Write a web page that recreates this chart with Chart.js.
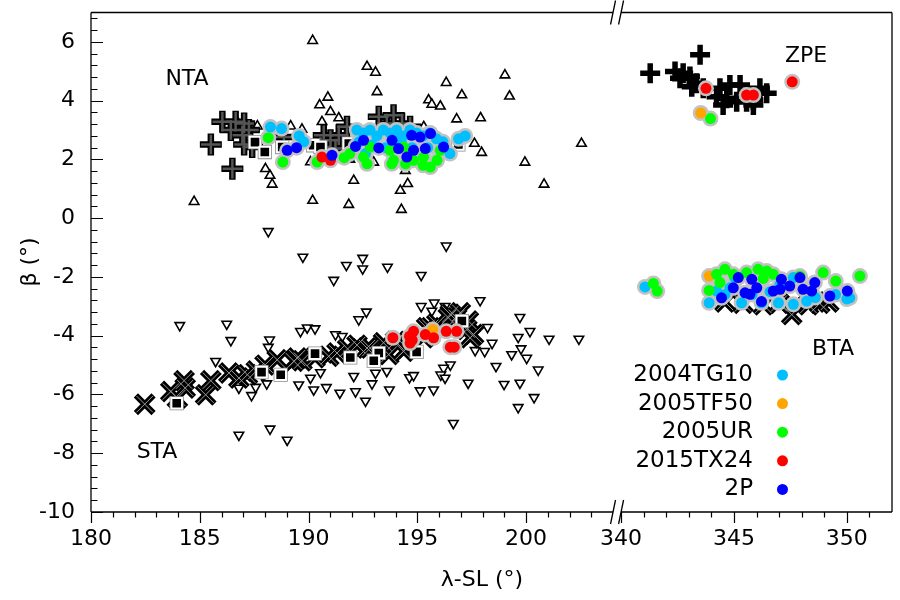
<!DOCTYPE html>
<html>
<head>
<meta charset="utf-8">
<script src="https://cdn.jsdelivr.net/npm/chart.js@4.4.1/dist/chart.umd.min.js"></script>
<style>
  html, body { margin: 0; padding: 0; background: #fff; }
  canvas { display: block; }
</style>
</head>
<body>
<canvas id="chart" width="900" height="600"></canvas>
<script>
// ---- axis ticks / labels ----
const xTickLon = [180, 185, 190, 195, 200, 340, 345, 350];
const yTicks = [-10, -8, -6, -4, -2, 0, 2, 4, 6];

// ---- sporadic radiants (λ-SL, β) ----
const triUp = [[190.19,6.04],[192.69,5.16],[193.08,4.96],[193.15,4.30],[196.33,4.61],[190.89,4.11],[190.51,3.85],
  [191.01,3.62],[191.39,3.41],[190.62,3.28],[195.52,4.02],[195.67,3.87],[196.06,3.81],[189.18,3.13],[189.70,3.02],
  [187.65,3.13],[186.73,3.28],[188.02,1.68],[188.23,1.45],[188.33,1.15],[192.08,1.28],[194.45,1.62],[194.56,1.17],
  [194.22,0.94],[194.27,0.29],[190.19,0.60],[191.85,0.46],[184.74,0.56],[190.09,1.91],[195.30,3.11],[199.03,4.87],
  [199.24,4.15],[197.05,4.19],[196.81,3.37],[197.91,3.41],[197.63,2.54],[197.96,2.23],[199.95,1.90],[200.83,1.15],
  [202.55,2.54],[191.9,2.0],[193.0,1.9],[196.2,2.2]];
const triDown = [[188.15,-0.45],[196.33,-0.94],[189.74,-1.32],[191.74,-1.60],[192.49,-1.36],[192.49,-1.72],[191.16,-2.11],
  [192.31,-3.45],[192.66,-3.19],[184.08,-3.65],[186.24,-3.60],[186.43,-4.16],[188.21,-4.14],[188.15,-4.39],[185.73,-4.87],
  [189.63,-3.85],[189.94,-3.73],[190.30,-3.76],[191.24,-3.96],[191.55,-4.02],[186.80,-5.78],[187.38,-6.03],[187.57,-5.75],
  [188.08,-5.63],[189.55,-5.67],[190.24,-5.84],[190.82,-5.76],[191.44,-5.95],[192.16,-5.90],[192.62,-6.22],[192.08,-5.38],
  [190.55,-5.25],[190.09,-5.44],[186.80,-7.38],[188.23,-7.17],[189.02,-7.55],[193.63,-1.66],[195.18,-1.94],[197.89,-2.80],
  [195.18,-3.00],[195.78,-2.88],[196.28,-3.00],[195.67,-3.16],[199.72,-3.37],[200.18,-3.85],[201.06,-4.11],[202.43,-4.11],
  [198.23,-3.71],[199.64,-4.05],[198.44,-4.25],[199.77,-4.44],[200.03,-4.76],[199.34,-4.64],[197.66,-4.50],[198.10,-4.53],
  [198.62,-5.04],[200.56,-5.16],[197.34,-5.61],[198.99,-5.65],[199.72,-5.61],[200.37,-6.10],[199.64,-6.44],[196.66,-6.98],
  [196.52,-4.99],[196.21,-5.10],[196.08,-5.33],[196.28,-5.44],[194.64,-5.42],[194.83,-5.35],[195.13,-5.87],[195.75,-5.84],
  [193.72,-5.84],[192.92,-5.63],[193.60,-5.21],[193.08,-5.27]];

// ---- shower members ----
const ntaPlus = [[185.51,2.51],[186.50,1.68],[186.04,3.28],[186.65,3.28],[187.04,3.22],[186.43,3.00],[186.96,2.82],
  [187.26,3.00],[187.04,2.51],[187.41,2.42],[188.87,2.76],[190.70,2.82],[191.01,2.65],[191.39,2.82],[190.55,2.42],
  [191.24,2.37],[191.77,3.11],[193.23,3.45],[193.91,3.50],[193.60,3.22],[194.30,3.22],[194.67,3.11]];
const zpePlus = [[343.50,5.56],[341.29,4.93],[342.39,4.99],[342.75,4.93],[343.05,4.82],[342.61,4.76],[343.34,4.59],
  [343.13,4.47],[343.64,4.42],[344.38,4.42],[344.82,4.53],[345.27,4.53],[344.23,4.13],[344.68,4.08],[345.12,3.96],
  [345.56,3.96],[345.86,4.02],[346.15,4.42],[346.45,4.25],[344.52,3.85],[345.86,3.85]];
const staCross = [[182.47,-6.33],[183.67,-5.90],[184.28,-5.53],[184.33,-5.78],[183.97,-6.12],[185.27,-6.01],[185.51,-5.53],
  [186.34,-5.27],[186.80,-5.44],[187.19,-5.33],[188.56,-4.82],[189.33,-4.87],[189.70,-4.85],[190.93,-4.70],[191.31,-4.59],
  [192.23,-4.32],[192.69,-4.42],[189.48,-4.76],[193.45,-4.24],[192.84,-4.42],[195.29,-4.07],[194.52,-4.42],[196.81,-3.39],
  [197.28,-3.79],[197.43,-4.07],[196.52,-3.27],[195.60,-3.73],[196.98,-3.22],[197.59,-3.96],[197.35,-3.50],[193.69,-4.64],
  [194.37,-4.53],[195.43,-3.73],[196.43,-3.39],[187.6,-5.20],[188.0,-5.00],[190.3,-4.75],[191.8,-4.45],[194.0,-4.20],[195.9,-3.60]];
const btaCross = [[347.56,-3.28],[348.30,-2.95],[348.80,-2.90],[349.20,-2.85],[346.30,-2.95],[345.40,-2.90],[344.60,-2.85],[347.00,-2.90]];
const squares = [[187.54,2.59],[187.99,2.25],[188.79,2.42],[190.21,2.48],[190.55,2.42],[191.85,2.54],[196.89,2.51],
  [183.94,-6.30],[187.84,-5.24],[188.72,-5.33],[190.30,-4.61],[191.92,-4.74],[193.23,-4.59],[193.00,-4.85],[194.97,-4.55],[197.05,-3.50]];

// ---- parent bodies ----
const tg10 = [[188.25,3.10],[188.76,3.05],[189.57,2.80],[189.78,2.60],[192.22,3.00],[192.52,2.90],[192.83,3.00],[193.14,2.80],
  [193.44,3.00],[193.75,2.90],[194.05,3.00],[194.36,2.80],[194.66,3.00],[194.97,2.90],[195.27,2.80],[195.58,2.90],[195.88,2.70],
  [196.18,2.60],[196.50,2.20],[196.90,2.70],[197.20,2.80],[192.32,2.60],[192.93,2.50],[193.54,2.40],[194.26,2.60],[194.76,2.40],
  [195.48,2.40],[193.95,2.70],[192.62,2.20],
  [341.06,-2.34],[343.90,-2.88],[344.23,-2.48],[344.82,-2.37],[345.34,-2.88],[346.22,-2.88],[346.97,-2.88],[347.63,-2.93],
  [348.22,-2.82],[347.63,-2.02],[347.04,-2.25],[345.04,-2.02],[350.13,-2.71],[345.80,-2.60],[346.60,-2.50],[348.60,-2.70],
  [349.50,-2.60],[344.60,-2.60],[350.00,-2.75]];
const tf50 = [[195.71,-3.79],[343.53,3.58],[343.90,-1.97]];
const ur = [[188.15,2.74],[188.82,1.91],[190.40,1.91],[191.64,2.06],[191.90,2.20],[192.53,2.08],[192.69,1.85],[192.84,2.42],
  [193.75,2.31],[193.83,1.85],[194.37,2.42],[194.67,2.19],[195.29,2.08],[195.60,1.74],[195.91,1.97],[196.06,2.31],[193.91,1.97],
  [194.83,1.97],[195.27,1.80],[194.46,1.85],
  [343.96,3.39],
  [341.43,-2.22],[341.60,-2.48],[344.23,-1.91],[344.60,-1.74],[344.38,-2.19],[343.90,-2.46],[344.97,-1.91],[345.56,-1.85],
  [346.07,-1.74],[346.45,-1.80],[346.74,-1.91],[347.92,-1.97],[348.95,-1.85],[349.51,-2.14],[350.58,-1.97],
  [345.20,-2.00],[346.30,-2.05]];
const tx24 = [[190.62,2.08],[191.01,1.97],
  [193.88,-4.07],[194.64,-4.02],[194.83,-3.85],[194.67,-4.25],[195.37,-3.96],[195.75,-4.07],[196.33,-3.85],[196.81,-3.85],
  [196.52,-4.39],[196.70,-4.39],[194.77,-4.15],
  [343.76,4.42],[345.56,4.19],[345.86,4.19],[347.58,4.64]];
const p2 = [[189.02,2.31],[189.45,2.40],[191.08,2.14],[192.16,2.44],[192.53,2.65],[193.23,2.39],[193.84,2.65],[194.14,2.37],
  [194.52,2.08],[194.74,2.82],[195.13,2.76],[195.61,2.88],[195.37,2.37],[196.21,2.42],[194.83,2.31],
  [344.45,-2.71],[345.19,-2.02],[344.97,-2.37],[345.49,-2.54],[345.79,-2.08],[346.01,-2.37],[345.71,-2.59],[346.22,-2.84],
  [347.10,-2.08],[347.04,-2.42],[347.47,-2.31],[347.92,-2.02],[348.06,-2.42],[348.44,-2.48],[348.58,-2.19],[346.74,-2.48],
  [349.25,-2.65],[350.02,-2.48]];

const bodyNames = ['2004TG10', '2005TF50', '2005UR', '2015TX24', '2P'];
const bodyColors = ['#00bfff', '#ffa500', '#00ff00', '#ff0000', '#0000ff'];
const bodyData = [tg10, tf50, ur, tx24, p2];

const showerLabels = [['NTA', 187, 79], ['STA', 157, 452], ['ZPE', 806, 56], ['BTA', 833, 349]];

// ---- broken x axis: 180-204 | 340-352 on one linear scale ----
const LEFT_MIN = 180, LEFT_MAX = 204, RIGHT_MIN = 340, RIGHT_MAX = 352;
const GAP = 0.37, RIGHT_K = 1.038;
function toAxis(lon) {
    if (lon < 270) return lon - LEFT_MIN;
    return (LEFT_MAX - LEFT_MIN) + GAP + (lon - RIGHT_MIN) * RIGHT_K;
}
function pts(arr) {
    return arr.map(p => ({ x: toAxis(p[0]), y: p[1] }));
}

const FONT = 'DejaVu Sans';

const datasets = [
    { data: pts(triUp), pointStyle: 'triangle', pointRadius: 5.5, backgroundColor: '#fff', borderColor: '#000', borderWidth: 1.6, order: 30 },
    { data: pts(triDown), pointStyle: 'triangle', rotation: 180, pointRadius: 5.5, backgroundColor: '#fff', borderColor: '#000', borderWidth: 1.6, order: 29 },
    // NTA grey plus with black outline
    { data: pts(ntaPlus), pointStyle: 'cross', pointRadius: 11, borderColor: '#000', borderWidth: 6.5, order: 20 },
    { data: pts(ntaPlus), pointStyle: 'cross', pointRadius: 9.8, borderColor: '#555', borderWidth: 2.5, order: 19 },
    // ZPE black plus
    { data: pts(zpePlus), pointStyle: 'cross', pointRadius: 10, borderColor: '#000', borderWidth: 5.5, order: 18 },
    // STA / BTA crosses
    { data: pts(staCross.concat(btaCross)), pointStyle: 'crossRot', pointRadius: 12.5, borderColor: '#000', borderWidth: 6, order: 17 },
    { data: pts(staCross.concat(btaCross)), pointStyle: 'crossRot', pointRadius: 11.5, borderColor: '#9a9a9a', borderWidth: 1, order: 16 },
    // squares
    { data: pts(squares), pointStyle: 'rect', pointRadius: 10, backgroundColor: '#8a8a8a', borderWidth: 0, order: 12 },
    { data: pts(squares), pointStyle: 'rect', pointRadius: 7.5, backgroundColor: '#000', borderColor: '#fff', borderWidth: 2, order: 11 },
    // grey halo under all parent-body points
    { data: pts([].concat(...bodyData)), pointStyle: 'circle', pointRadius: 8, backgroundColor: '#c2c2c2', borderWidth: 0, order: 8 }
];
bodyData.forEach((arr, i) => {
    datasets.push({ data: pts(arr), pointStyle: 'circle', pointRadius: 5.5, backgroundColor: bodyColors[i], borderWidth: 0, order: 5 - i });
});
datasets.forEach(d => { d.pointHoverRadius = d.pointRadius; });

function drawTicks(ctx, a, x, y) {
    ctx.lineWidth = 1.2;
    ctx.beginPath();
    // y: inward, major every 2, minor every 0.4
    for (let k = 0; k <= 42; k++) {
        const v = -10 + k * 0.4;
        const py = Math.round(y.getPixelForValue(v)) + 0.5;
        const len = (k % 5 === 0) ? 12 : 6.5;
        ctx.moveTo(a.left, py); ctx.lineTo(a.left + len, py);
    }
    // x: outward, major every 5, minor every 1
    const xs = [];
    for (let l = LEFT_MIN; l < LEFT_MAX; l++) xs.push(l);
    for (let l = RIGHT_MIN; l < RIGHT_MAX; l++) xs.push(l);
    xs.forEach(l => {
        const px = Math.round(x.getPixelForValue(toAxis(l))) + 0.5;
        const len = (l % 5 === 0) ? 11 : 5.5;
        ctx.moveTo(px, a.bottom); ctx.lineTo(px, a.bottom + len);
    });
    ctx.stroke();
}

const framePlugin = {
    id: 'frame',
    afterDraw(chart) {
        const { ctx, chartArea: a, scales: { x, y } } = chart;
        const breakL = x.getPixelForValue(toAxis(LEFT_MAX));
        const breakR = x.getPixelForValue(toAxis(RIGHT_MIN));
        ctx.save();
        ctx.strokeStyle = '#000';
        ctx.lineWidth = 1.3;
        ctx.beginPath();
        ctx.moveTo(a.left, a.top); ctx.lineTo(a.left, a.bottom);
        ctx.moveTo(a.right, a.top); ctx.lineTo(a.right, a.bottom);
        [a.top, a.bottom].forEach(yy => {
            ctx.moveTo(a.left, yy); ctx.lineTo(breakL, yy);
            ctx.moveTo(breakR, yy); ctx.lineTo(a.right, yy);
        });
        // break marks
        [a.top, a.bottom].forEach(yy => {
            [breakL, breakR].forEach(xx => {
                ctx.moveTo(xx - 2.5, yy + 12); ctx.lineTo(xx + 2.5, yy - 12);
            });
        });
        ctx.stroke();
        drawTicks(ctx, a, x, y);

        // shower names
        ctx.fillStyle = '#000';
        ctx.font = '22px "' + FONT + '"';
        ctx.textAlign = 'center';
        ctx.textBaseline = 'middle';
        showerLabels.forEach(s => ctx.fillText(s[0], s[1], s[2]));

        // legend (labels left, dots right)
        ctx.font = '23px "' + FONT + '"';
        ctx.textAlign = 'right';
        bodyNames.forEach((n, i) => {
            const ly = 375 + i * 28.6;
            ctx.fillStyle = '#000';
            ctx.fillText(n, 753, ly);
            ctx.fillStyle = bodyColors[i];
            ctx.beginPath();
            ctx.arc(782.5, ly, 5.5, 0, Math.PI * 2);
            ctx.fill();
        });

        // axis titles
        ctx.fillStyle = '#000';
        ctx.font = '22px "' + FONT + '"';
        ctx.textAlign = 'center';
        ctx.fillText('λ-SL (°)', 482, 580);
        ctx.translate(30, 262);
        ctx.rotate(-Math.PI / 2);
        ctx.fillText('β (°)', 0, 0);
        ctx.restore();
    }
};

function noPad(s) {
    s.paddingTop = 0; s.paddingBottom = 0; s.paddingLeft = 0; s.paddingRight = 0;
}

new Chart(document.getElementById('chart'), {
    type: 'scatter',
    data: { datasets: datasets },
    options: {
        responsive: false,
        animation: false,
        devicePixelRatio: 1,
        layout: { autoPadding: false, padding: { top: 12.5, right: 8, left: 0, bottom: 0 } },
        plugins: { legend: { display: false }, tooltip: { enabled: false } },
        scales: {
            x: {
                type: 'linear',
                min: 0,
                max: toAxis(RIGHT_MAX),
                afterBuildTicks: s => { s.ticks = xTickLon.map(l => ({ value: toAxis(l) })); },
                afterFit: s => { s.height = 88; noPad(s); },
                grid: { display: false, drawTicks: false },
                border: { display: false },
                ticks: {
                    color: '#000',
                    font: { family: FONT, size: 22 },
                    padding: 14,
                    maxRotation: 0,
                    autoSkip: false,
                    callback: (v, i) => String(xTickLon[i])
                }
            },
            y: {
                type: 'linear',
                min: -10,
                max: 7,
                afterBuildTicks: s => { s.ticks = yTicks.map(v => ({ value: v })); },
                afterFit: s => { s.width = 91; noPad(s); },
                grid: { display: false, drawTicks: false },
                border: { display: false },
                ticks: {
                    color: '#000',
                    font: { family: FONT, size: 22 },
                    padding: 16,
                    autoSkip: false
                }
            }
        }
    },
    plugins: [framePlugin]
});
</script>
</body>
</html>
